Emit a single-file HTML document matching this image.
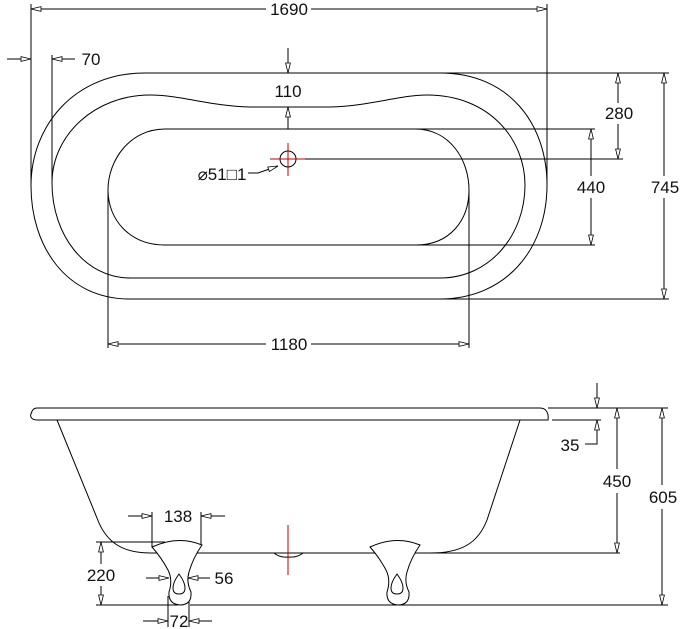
<!DOCTYPE html>
<html><head><meta charset="utf-8"><style>
html,body{margin:0;padding:0;background:#fff;}
svg{display:block;}
text{font-family:"Liberation Sans",Arial,sans-serif;font-size:17px;fill:#111;}
</style></head><body>
<svg width="683" height="629" viewBox="0 0 683 629" xmlns="http://www.w3.org/2000/svg">
<defs>
<marker id="a" markerWidth="14" markerHeight="8" refX="11" refY="4" orient="auto-start-reverse" markerUnits="userSpaceOnUse">
<path d="M1,1.6 L11,4 L1,6.4 Z" fill="#fff" stroke="#000" stroke-width="0.8"/>
</marker>
<g id="foot">
<path d="M152,547 Q178,535 202,545 Q193,558 189,572 Q186,582 191,592 Q192,605 180,605 Q168,604 169,592 Q173,580 168,570 Q161,557 152,547 Z" fill="#fff" stroke="#000" stroke-width="1"/>
<path d="M179,574 Q185,582 185,588 Q185,594 179,594 Q173,594 173,588 Q173,582 179,574 Z" fill="#fff" stroke="#000" stroke-width="1"/>
</g>
</defs>
<g fill="none" stroke="#000" stroke-width="1">
<path d="M145,73 L440,73 C510,73 547,125 547,185 C547,250 505,299 440,299 L130,299 C65,299 31,245 31,186 C31,125 75,73 145,73 Z"/>
<path d="M150,95 C180,95 210,106 250,107 L330,107 C370,106 400,95 427,95 C490,95 525,140 525,185 C525,235 490,278 440,278 L130,278 C85,278 52,235 52,183 C52,135 95,95 150,95 Z"/>
<path d="M165,129 L415,129 C450,129 469,160 469,190 C469,220 450,245 416,245 L165,245 C130,245 108,220 108,190 C108,160 130,129 165,129 Z"/>
<circle cx="288" cy="159" r="8"/>
<line x1="296" y1="159" x2="623" y2="159"/>
<line x1="31" y1="4" x2="31" y2="186"/>
<line x1="547" y1="4" x2="547" y2="185"/>
<line x1="52" y1="55" x2="52" y2="183"/>
<line x1="440" y1="73" x2="669" y2="73"/>
<line x1="440" y1="299" x2="669" y2="299"/>
<line x1="415" y1="129" x2="595" y2="129"/>
<line x1="416" y1="245" x2="595" y2="245"/>
<line x1="108" y1="190" x2="108" y2="348"/>
<line x1="469" y1="190" x2="469" y2="348"/>
<line x1="31" y1="9" x2="266" y2="9" marker-start="url(#a)"/>
<line x1="311" y1="9" x2="547" y2="9" marker-end="url(#a)"/>
<line x1="7" y1="59" x2="31" y2="59" marker-end="url(#a)"/>
<line x1="75" y1="59" x2="52" y2="59" marker-end="url(#a)"/>
<line x1="288" y1="48" x2="288" y2="73" marker-end="url(#a)"/>
<line x1="288" y1="129" x2="288" y2="107" marker-end="url(#a)"/>
<line x1="618" y1="73" x2="618" y2="103" marker-start="url(#a)"/>
<line x1="618" y1="124" x2="618" y2="159" marker-end="url(#a)"/>
<line x1="591" y1="129" x2="591" y2="176" marker-start="url(#a)"/>
<line x1="591" y1="198" x2="591" y2="245" marker-end="url(#a)"/>
<line x1="664" y1="73" x2="664" y2="176" marker-start="url(#a)"/>
<line x1="664" y1="198" x2="664" y2="299" marker-end="url(#a)"/>
<line x1="108" y1="344" x2="266" y2="344" marker-start="url(#a)"/>
<line x1="311" y1="344" x2="469" y2="344" marker-end="url(#a)"/>
<path d="M248,173 L258,173 L278,166" marker-end="url(#a)"/>

<path d="M37,408 L540,408 C546,408 549,413 548,420 L37,420 C31,420 30,416 31,414 C32,410 34,408 37,408 Z"/>
<path d="M57,420 L97,518 C105,540 120,553 150,553"/>
<path d="M520,420 L487,520 C478,543 462,553 430,553"/>
<line x1="150" y1="553" x2="620" y2="553"/>
<path d="M274,553 Q280,558 288,557 Q297,558 303,553"/>
<line x1="552" y1="420" x2="601" y2="420"/>
<line x1="548" y1="408" x2="668" y2="408"/>
<line x1="190" y1="605" x2="668" y2="605"/>
<line x1="597" y1="383" x2="597" y2="408" marker-end="url(#a)"/>
<path d="M597,431 L597,420" marker-end="url(#a)"/>
<path d="M597,430 L597,444 L585,444"/>
<line x1="617" y1="408" x2="617" y2="469" marker-start="url(#a)"/>
<line x1="617" y1="493" x2="617" y2="553" marker-end="url(#a)"/>
<line x1="662" y1="408" x2="662" y2="485" marker-start="url(#a)"/>
<line x1="662" y1="509" x2="662" y2="605" marker-end="url(#a)"/>
<line x1="152" y1="512" x2="152" y2="547"/>
<line x1="201" y1="512" x2="201" y2="545"/>
<line x1="128" y1="516" x2="152" y2="516" marker-end="url(#a)"/>
<line x1="225" y1="516" x2="201" y2="516" marker-end="url(#a)"/>
<line x1="96" y1="542" x2="165" y2="542"/>
<line x1="96" y1="605" x2="178" y2="605"/>
<line x1="101" y1="542" x2="101" y2="564" marker-start="url(#a)"/>
<line x1="101" y1="586" x2="101" y2="605" marker-end="url(#a)"/>
<line x1="146" y1="578" x2="169" y2="578" marker-end="url(#a)"/>
<line x1="210" y1="578" x2="188" y2="578" marker-end="url(#a)"/>
<line x1="168" y1="596" x2="168" y2="627"/>
<line x1="189" y1="596" x2="189" y2="627"/>
<line x1="143" y1="621" x2="168" y2="621" marker-end="url(#a)"/>
<line x1="212" y1="621" x2="189" y2="621" marker-end="url(#a)"/>
</g>
<use href="#foot"/>
<use href="#foot" transform="translate(218,0)"/>
<g stroke="#b00" stroke-width="1">
<line x1="288" y1="143" x2="288" y2="176"/>
<line x1="270" y1="159" x2="305" y2="159"/>
<line x1="288" y1="525" x2="288" y2="575"/>
</g>
<g text-anchor="middle">
<text x="289" y="15">1690</text>
<text x="91" y="65">70</text>
<text x="288" y="97">110</text>
<text x="619" y="119">280</text>
<text x="591" y="193">440</text>
<text x="665" y="193">745</text>
<text x="289" y="350">1180</text>
<text x="222" y="180">⌀51□1</text>
<text x="570" y="451">35</text>
<text x="617" y="487">450</text>
<text x="663" y="503">605</text>
<text x="178" y="522">138</text>
<text x="101" y="581">220</text>
<text x="224" y="584">56</text>
<text x="179" y="627">72</text>
</g>
</svg>
</body></html>
